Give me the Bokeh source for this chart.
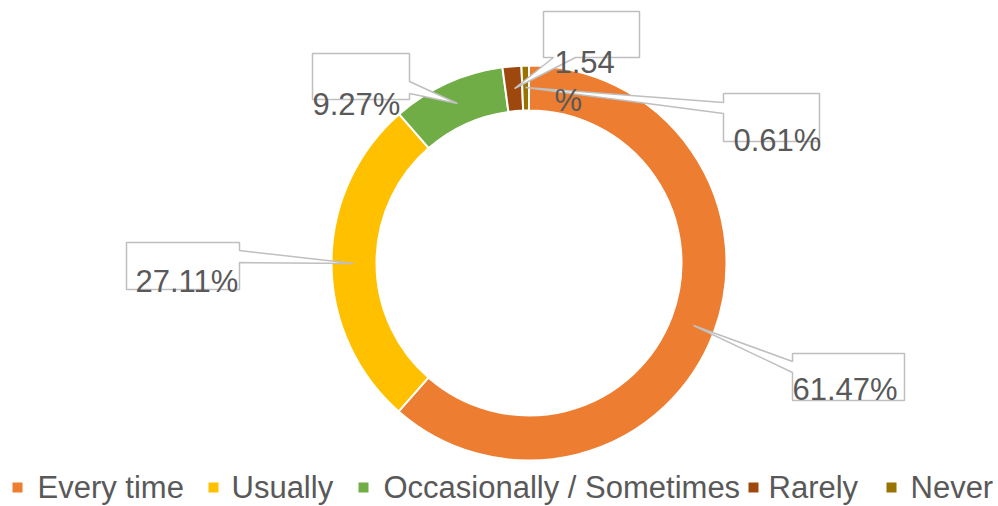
import numpy as np
from bokeh.plotting import figure
from bokeh.models import Range1d, ColumnDataSource
from bokeh.core.properties import value
from bokeh.embed import file_html
from bokeh.resources import INLINE

# ---- data ----
categories = ["Every time", "Usually", "Occasionally / Sometimes", "Rarely", "Never"]
percents = [61.47, 27.11, 9.27, 1.54, 0.61]
colors = ["#ED7D31", "#FFC000", "#70AD47", "#9E480E", "#997300"]
label_texts = ["61.47%", "27.11%", "9.27%", "1.54\n%", "0.61%"]

# ---- layout (page pixel coords; y grows downward, negated for plotting) ----
CX, CY = 528.5, 262.5
R_OUT, R_IN = 197.5, 152.5
TEXT = "#595959"
FONT = value("Liberation Sans")

W, H = 998, 506
p = figure(width=W, height=H, x_range=Range1d(0, W), y_range=Range1d(-H, 0),
           output_backend="svg", toolbar_location=None, min_border=0)
p.axis.visible = False
p.grid.visible = False
p.outline_line_color = None
p.background_fill_color = "white"

vals = np.array(percents) / 100.0
cum = np.concatenate([[0.0], np.cumsum(vals)])
start = np.pi / 2 - 2 * np.pi * cum[:-1]
end = np.pi / 2 - 2 * np.pi * cum[1:]
src = ColumnDataSource(dict(x=[CX] * len(vals), y=[-CY] * len(vals), start=start, end=end, color=colors))
p.annular_wedge(x="x", y="y", inner_radius=R_IN, outer_radius=R_OUT, start_angle="start",
                end_angle="end", direction="clock", fill_color="color", line_color="white",
                line_width=2, source=src)

# callout shapes: box + pointer to slice
boxes = [(792, 353, 904, 400), (126, 242, 239, 289), (312, 53, 409, 99), (543, 11, 639, 57), (723, 93, 819, 141)]
tips = [(693, 325), (353, 263), (457, 103), (514, 88), (525, 87)]
sides = ["left", "right", "right", "bottom", "left"]
notches = [(361, 372), (250, 262), (81, 93), (553, 575), (102, 113)]

xs, ys = [], []
for (x0, y0, x1, y1), (tx, ty), side, (n0, n1) in zip(boxes, tips, sides, notches):
    if side == "left":
        pts = [(x0, y0), (x1, y0), (x1, y1), (x0, y1), (x0, n1), (tx, ty), (x0, n0)]
    elif side == "right":
        pts = [(x0, y0), (x1, y0), (x1, n0), (tx, ty), (x1, n1), (x1, y1), (x0, y1)]
    else:  # bottom
        pts = [(x0, y0), (x1, y0), (x1, y1), (n1, y1), (tx, ty), (n0, y1), (x0, y1)]
    xs.append([q[0] for q in pts])
    ys.append([-q[1] for q in pts])
p.patches(xs, ys, fill_color="white", line_color="#BFBFBF", line_width=1.5)

# label texts
lab_x = [792, 135, 312, 554, 733]
lab_y = [389, 281, 104, 81, 140]
p.text(x=lab_x, y=[-v for v in lab_y], text=label_texts, text_font=FONT, text_font_size="31px",
       text_color=TEXT, text_baseline="alphabetic", text_align="left", text_line_height=1.1)

# legend
leg_sq_x = [17, 213, 363, 753, 891]
leg_tx_x = [37, 231, 383, 768, 910]
leg_sq_y = 487
leg_tx_y = 487
p.scatter(x=leg_sq_x, y=[-leg_sq_y] * 5, marker="square", size=10, fill_color=colors, line_color=None)
p.text(x=leg_tx_x, y=[-leg_tx_y] * 5, text=categories, text_font=FONT, text_font_size="31px",
       text_color=TEXT, text_baseline="alphabetic", text_align="left")

open("out.html", "w").write(file_html(p, INLINE))
